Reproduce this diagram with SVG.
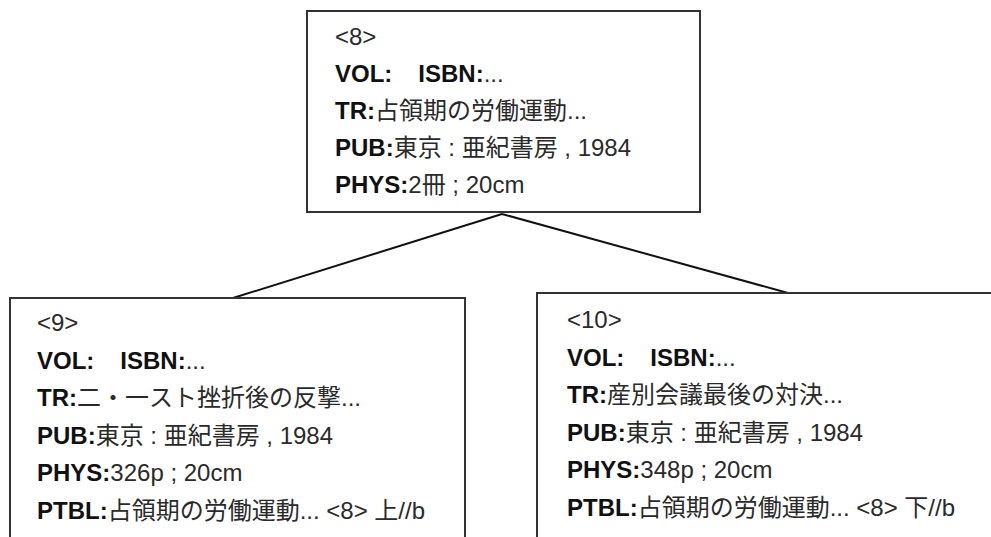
<svg xmlns="http://www.w3.org/2000/svg" width="991" height="537" viewBox="0 0 991 537">
<style>
  .box { fill: #ffffff; stroke: #333333; stroke-width: 2; }
  .edge { stroke: #111111; stroke-width: 2; fill: none; }
  text { font-family: "Liberation Sans", "Noto Sans CJK JP", sans-serif; font-size: 24px; fill: #2a2a2a; }
  .b { font-weight: bold; fill: #111111; }
</style>
<rect x="0" y="0" width="991" height="537" fill="#ffffff"/>
<g id="connectors">
  <line class="edge" x1="502" y1="214" x2="233" y2="298"/>
  <line class="edge" x1="502" y1="214" x2="788" y2="293"/>
</g>
<g id="node8">
  <rect class="box" x="307" y="11" width="393" height="201"/>
  <text x="335" y="45">&lt;8&gt;</text>
  <text x="335" y="82"><tspan class="b">VOL:</tspan><tspan class="b" dx="26">ISBN:</tspan>...</text>
  <text x="335" y="119"><tspan class="b">TR:</tspan>占領期の労働運動...</text>
  <text x="335" y="156"><tspan class="b">PUB:</tspan>東京 : 亜紀書房 , 1984</text>
  <text x="335" y="193"><tspan class="b">PHYS:</tspan>2冊 ; 20cm</text>
</g>
<g id="node9">
  <rect class="box" x="10" y="298" width="455" height="260"/>
  <text x="37" y="331">&lt;9&gt;</text>
  <text x="37" y="368.5"><tspan class="b">VOL:</tspan><tspan class="b" dx="26">ISBN:</tspan>...</text>
  <text x="37" y="406"><tspan class="b">TR:</tspan>二・一スト挫折後の反撃...</text>
  <text x="37" y="443.5"><tspan class="b">PUB:</tspan>東京 : 亜紀書房 , 1984</text>
  <text x="37" y="481"><tspan class="b">PHYS:</tspan>326p ; 20cm</text>
  <text x="37" y="518.5"><tspan class="b">PTBL:</tspan>占領期の労働運動... &lt;8&gt; 上//b</text>
</g>
<g id="node10">
  <rect class="box" x="537" y="293" width="470" height="260"/>
  <text x="567" y="328">&lt;10&gt;</text>
  <text x="567" y="365.5"><tspan class="b">VOL:</tspan><tspan class="b" dx="26">ISBN:</tspan>...</text>
  <text x="567" y="403"><tspan class="b">TR:</tspan>産別会議最後の対決...</text>
  <text x="567" y="440.5"><tspan class="b">PUB:</tspan>東京 : 亜紀書房 , 1984</text>
  <text x="567" y="478"><tspan class="b">PHYS:</tspan>348p ; 20cm</text>
  <text x="567" y="515.5"><tspan class="b">PTBL:</tspan>占領期の労働運動... &lt;8&gt; 下//b</text>
</g>
</svg>
